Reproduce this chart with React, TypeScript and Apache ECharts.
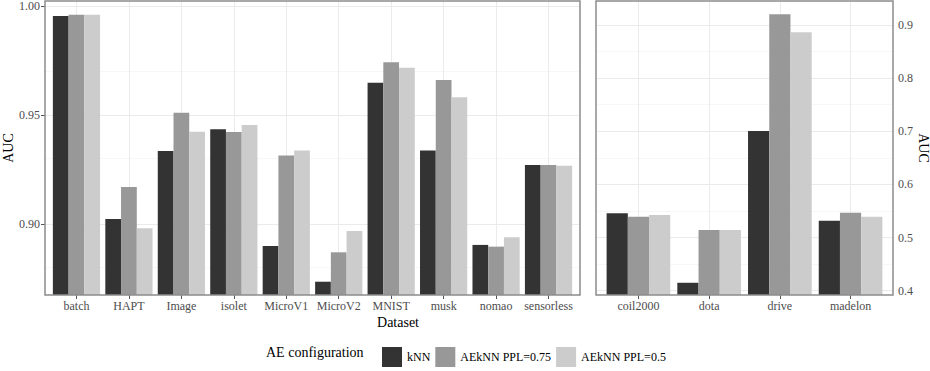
import React, { useEffect, useRef } from "react";
import * as echarts from "echarts";

// ---------------- data ----------------
const LEFT_CATS = ["batch", "HAPT", "Image", "isolet", "MicroV1", "MicroV2", "MNIST", "musk", "nomao", "sensorless"];
const RIGHT_CATS = ["coil2000", "dota", "drive", "madelon"];
const SERIES_NAMES = ["kNN", "AEkNN PPL=0.75", "AEkNN PPL=0.5"];

const LEFT_KNN = [0.9954, 0.9022, 0.9334, 0.9434, 0.8898, 0.8734, 0.9648, 0.9336, 0.8903, 0.927];
const LEFT_AE075 = [0.996, 0.9169, 0.951, 0.9422, 0.9313, 0.8869, 0.9742, 0.966, 0.8895, 0.927];
const LEFT_AE05 = [0.996, 0.8979, 0.9423, 0.9454, 0.9336, 0.8967, 0.9717, 0.9581, 0.8938, 0.9267];

const RIGHT_KNN = [0.5456, 0.415, 0.7005, 0.5317];
const RIGHT_AE075 = [0.5393, 0.5142, 0.92, 0.5468];
const RIGHT_AE05 = [0.5424, 0.5142, 0.8861, 0.5393];

const LEFT_TICKS = [0.9, 0.95, 1.0];
const LEFT_MINOR = [0.875, 0.925, 0.975];
const RIGHT_TICKS = [0.4, 0.5, 0.6, 0.7, 0.8, 0.9];
const RIGHT_MINOR = [0.45, 0.55, 0.65, 0.75, 0.85];
const LEFT_RANGE = [0.8673, 1.0023];
const RIGHT_RANGE = [0.392, 0.945];

// ---------------- layout / style ----------------
const W = 930;
const H = 371;
const PANEL_TOP = 1;
const PANEL_BOTTOM = 295;
const LP = [45, 580];
const RP = [596, 893];
const COLORS = ["#333333", "#989898", "#cccccc"];
const FONT = "Liberation Serif";
const TICK_TEXT = "#4d4d4d";
const BORDER = "#8c8c8c";
const MAJOR = { color: "#ebebeb", width: 1, type: "solid" as const };
const MINOR = { color: "#f3f3f3", width: 0.7, type: "solid" as const };

function inset(panel: number[], n: number) {
  const step = (panel[1] - panel[0]) / (n + 0.2);
  return 0.1 * step;
}

export default function App() {
  const ref = useRef<HTMLDivElement>(null);

  useEffect(() => {
    if (!ref.current) return;
    const chart = echarts.init(ref.current, undefined, { renderer: "svg" });

    const li = inset(LP, LEFT_CATS.length);
    const ri = inset(RP, RIGHT_CATS.length);
    const bottom = H - PANEL_BOTTOM;

    const grids = [
      { left: LP[0], width: LP[1] - LP[0], top: PANEL_TOP, bottom },
      { left: LP[0] + li, width: LP[1] - LP[0] - 2 * li, top: PANEL_TOP, bottom },
      { left: RP[0], width: RP[1] - RP[0], top: PANEL_TOP, bottom },
      { left: RP[0] + ri, width: RP[1] - RP[0] - 2 * ri, top: PANEL_TOP, bottom },
    ];

    const catAxis = (gridIndex: number, cats: string[]) => ({
      type: "category",
      gridIndex,
      data: cats,
      boundaryGap: true,
      axisLine: { show: false },
      axisTick: { show: true, alignWithLabel: true, length: 4, lineStyle: { color: "#555" } },
      axisLabel: { interval: 0, margin: 5, fontSize: 12, color: TICK_TEXT, fontFamily: FONT },
      splitLine: { show: false },
    });
    const hiddenX = (gridIndex: number) => ({ type: "value", gridIndex, min: 0, max: 1, show: false });
    const hiddenY = (gridIndex: number, range: number[]) => ({
      type: "value", gridIndex, min: range[0], max: range[1], show: false,
    });
    const visY = (gridIndex: number, range: number[], ticks: number[], pos: string, digits: number) => ({
      type: "value",
      gridIndex,
      position: pos,
      min: range[0],
      max: range[1],
      axisLine: { show: false },
      splitLine: { show: false },
      axisTick: { show: true, length: 4, lineStyle: { color: "#555" }, customValues: ticks },
      axisLabel: {
        customValues: ticks,
        margin: 5,
        fontSize: 12,
        color: TICK_TEXT,
        fontFamily: FONT,
        formatter: (v: number) => v.toFixed(digits),
      },
    });

    const hLines = (majors: number[], minors: number[]) => [
      ...minors.map((v) => ({ yAxis: v, lineStyle: MINOR })),
      ...majors.map((v) => ({ yAxis: v, lineStyle: MAJOR })),
    ];
    const vLines = (cats: string[]) => cats.map((c) => ({ xAxis: c, lineStyle: MAJOR }));
    const mlBase = { symbol: ["none", "none"], silent: true, label: { show: false }, animation: false };

    const dummy = (xi: number, yi: number, data: any[]) => ({
      type: "line",
      xAxisIndex: xi,
      yAxisIndex: yi,
      data: [],
      z: 1,
      silent: true,
      markLine: { ...mlBase, data },
    });

    const bars = (xi: number, yi: number, vals: number[][]) =>
      vals.map((d, i) => ({
        type: "bar",
        name: SERIES_NAMES[i],
        xAxisIndex: xi,
        yAxisIndex: yi,
        data: d,
        barGap: "0%",
        barCategoryGap: "10%",
        itemStyle: { color: COLORS[i] },
        z: 5,
      }));

    const txt = (text: string, x: number, y: number, align: string, rotation = 0) => ({
      type: "text",
      x,
      y,
      rotation,
      silent: true,
      style: {
        text,
        font: `14px "${FONT}"`,
        fontSize: 14,
        fontFamily: FONT,
        fill: "#000",
        align,
        verticalAlign: "middle",
      },
    });

    const option: any = {
      animation: false,
      textStyle: { fontFamily: FONT },
      grid: grids,
      xAxis: [hiddenX(0), catAxis(1, LEFT_CATS), hiddenX(2), catAxis(3, RIGHT_CATS)],
      yAxis: [
        visY(0, LEFT_RANGE, LEFT_TICKS, "left", 2),
        hiddenY(1, LEFT_RANGE),
        visY(2, RIGHT_RANGE, RIGHT_TICKS, "right", 1),
        hiddenY(3, RIGHT_RANGE),
      ],
      legend: {
        data: SERIES_NAMES,
        left: 377,
        top: 342,
        itemWidth: 20,
        itemHeight: 20,
        itemGap: 5,
        icon: "rect",
        textStyle: { fontSize: 12, color: "#000", fontFamily: FONT },
        selectedMode: false,
      },
      series: [
        dummy(0, 0, hLines(LEFT_TICKS, LEFT_MINOR)),
        dummy(1, 1, vLines(LEFT_CATS)),
        dummy(2, 2, hLines(RIGHT_TICKS, RIGHT_MINOR)),
        dummy(3, 3, vLines(RIGHT_CATS)),
        ...bars(1, 1, [LEFT_KNN, LEFT_AE075, LEFT_AE05]),
        ...bars(3, 3, [RIGHT_KNN, RIGHT_AE075, RIGHT_AE05]),
      ],
      graphic: [
        {
          type: "rect",
          z: 100,
          silent: true,
          shape: { x: LP[0], y: PANEL_TOP, width: LP[1] - LP[0], height: PANEL_BOTTOM - PANEL_TOP },
          style: { fill: "none", stroke: BORDER, lineWidth: 1.5 },
        },
        {
          type: "rect",
          z: 100,
          silent: true,
          shape: { x: RP[0], y: PANEL_TOP, width: RP[1] - RP[0], height: PANEL_BOTTOM - PANEL_TOP },
          style: { fill: "none", stroke: BORDER, lineWidth: 1.5 },
        },
        txt("AE configuration", 266, 352, "left"),
        txt("Dataset", 398, 322, "center"),
        txt("AUC", 8, 148, "center", Math.PI / 2),
        txt("AUC", 923, 148, "center", -Math.PI / 2),
      ],
    };

    chart.setOption(option);
    return () => chart.dispose();
  }, []);

  return (
    <div
      ref={ref}
      style={{ position: "fixed", left: 0, top: 0, width: W, height: H, background: "#fff" }}
    />
  );
}
